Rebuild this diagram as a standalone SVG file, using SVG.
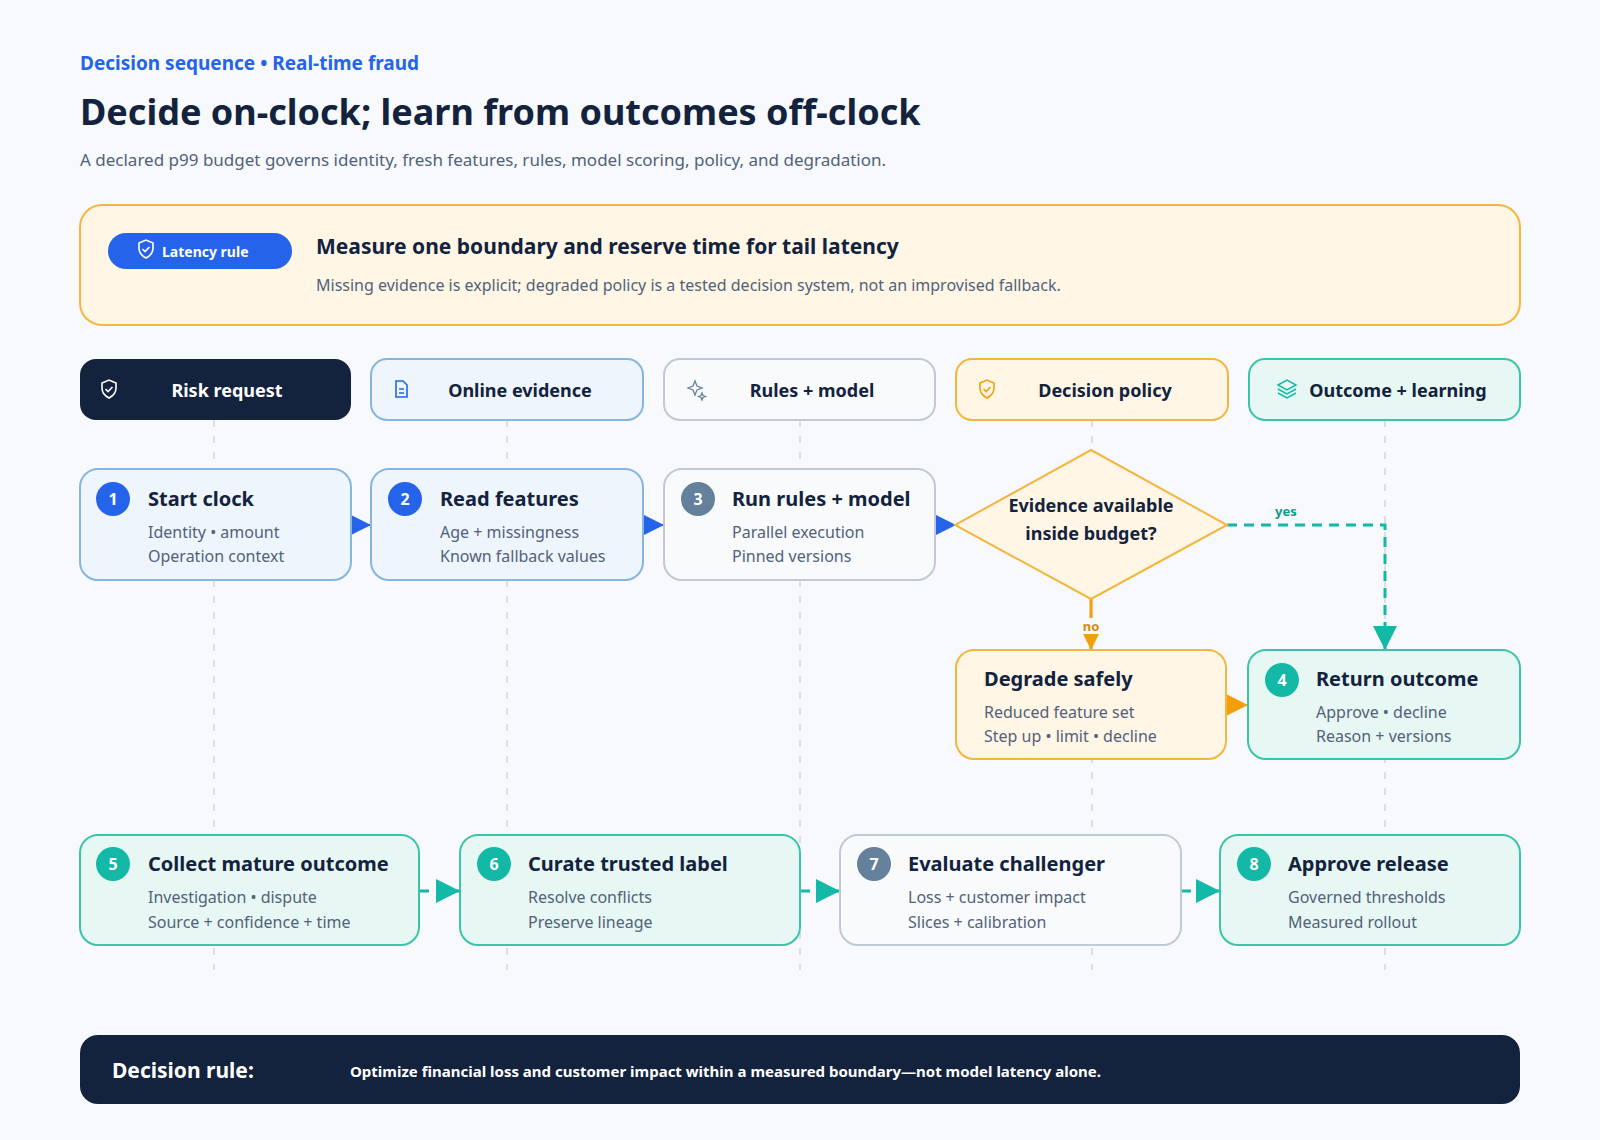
<svg xmlns="http://www.w3.org/2000/svg" width="1600" height="1140" viewBox="0 0 1600 1140">
<defs>
<style>
text{font-family:"Noto Sans","DejaVu Sans",sans-serif}
.t{font-size:20px;font-weight:700;fill:#13223d}
.s{font-size:16px;fill:#52627a}
.lh{font-size:18px;font-weight:700;fill:#13223d}
.bn{font-size:16px;font-weight:700;fill:#fff;text-anchor:middle}
.lane{stroke:#cfd6df;stroke-width:1.5;stroke-dasharray:7 9}
.blue{fill:#eef5fc;stroke:#86b6df;stroke-width:2}
.gray{fill:#f8fafc;stroke:#bfcad6;stroke-width:2}
.org{fill:#fff6e6;stroke:#f5b640;stroke-width:2}
.teal{fill:#e7f7f3;stroke:#3cc4ab;stroke-width:2}
</style>
<marker id="ab" viewBox="0 0 10 10" refX="10" refY="5" markerWidth="22" markerHeight="24" markerUnits="userSpaceOnUse" orient="auto"><path d="M0,0L10,5L0,10z" fill="#2563eb"/></marker>
<marker id="ao" viewBox="0 0 10 10" refX="10" refY="5" markerWidth="22" markerHeight="24" markerUnits="userSpaceOnUse" orient="auto"><path d="M0,0L10,5L0,10z" fill="#f59e0b"/></marker>
<marker id="at" viewBox="0 0 10 10" refX="10" refY="5" markerWidth="24" markerHeight="26" markerUnits="userSpaceOnUse" orient="auto"><path d="M0,0L10,5L0,10z" fill="#14b8a6"/></marker>
</defs>
<rect width="1600" height="1140" fill="#f7f9fc"/>
<text x="80" y="70" font-size="19" font-weight="700" fill="#2563eb">Decision sequence • Real-time fraud</text>
<text x="80" y="125" font-size="36" font-weight="700" fill="#13223d">Decide on-clock; learn from outcomes off-clock</text>
<text x="80" y="166" font-size="17" fill="#52627a">A declared p99 budget governs identity, fresh features, rules, model scoring, policy, and degradation.</text>
<g id="latency">
<rect x="80" y="205" width="1440" height="120" rx="22" fill="#fff6e6" stroke="#f5b640" stroke-width="2"/>
<rect x="108" y="233" width="184" height="36" rx="18" fill="#2563eb"/>
<path d="M139,243l7,-3l7,3v5c0,5,-3,8,-7,10c-4,-2,-7,-5,-7,-10z M142.5,249l2.5,2.5l4.5,-4.5" fill="none" stroke="#fff" stroke-width="1.6"/>
<text x="162" y="257" font-size="14" font-weight="700" fill="#fff">Latency rule</text>
<text x="316" y="254" font-size="21" font-weight="700" fill="#13223d">Measure one boundary and reserve time for tail latency</text>
<text x="316" y="291" class="s">Missing evidence is explicit; degraded policy is a tested decision system, not an improvised fallback.</text>
</g>
<g id="lanes">
<line class="lane" x1="214" y1="420" x2="214" y2="970"/>
<line class="lane" x1="507" y1="420" x2="507" y2="970"/>
<line class="lane" x1="800" y1="420" x2="800" y2="970"/>
<line class="lane" x1="1092" y1="420" x2="1092" y2="970"/>
<line class="lane" x1="1385" y1="420" x2="1385" y2="970"/>
</g>
<g id="lane-risk"><rect x="80" y="359" width="271" height="61" rx="16" fill="#13223d"/>
<path d="M102,383l7,-3l7,3v5c0,5,-3,8,-7,10c-4,-2,-7,-5,-7,-10z M105.5,389l2.5,2.5l4.5,-4.5" fill="none" stroke="#fff" stroke-width="1.6"/>
<text x="227" y="397" class="lh" fill="#fff" style="fill:#fff" text-anchor="middle">Risk request</text></g>
<g id="lane-evidence"><rect x="371" y="359" width="272" height="61" rx="16" class="blue"/>
<path d="M396,381h7l4,4v12h-11z M399,389h5M399,393h5" fill="none" stroke="#2563eb" stroke-width="1.6"/>
<text x="520" y="397" class="lh" text-anchor="middle">Online evidence</text></g>
<g id="lane-rules"><rect x="664" y="359" width="271" height="61" rx="16" class="gray"/>
<path d="M695,381l2,5l5,2l-5,2l-2,5l-2,-5l-5,-2l5,-2z M702,393l1,2.5l2.5,1l-2.5,1l-1,2.5l-1,-2.5l-2.5,-1l2.5,-1z" fill="none" stroke="#64809a" stroke-width="1.3"/>
<text x="812" y="397" class="lh" text-anchor="middle">Rules + model</text></g>
<g id="lane-policy"><rect x="956" y="359" width="272" height="61" rx="16" class="org"/>
<path d="M980,383l7,-3l7,3v5c0,5,-3,8,-7,10c-4,-2,-7,-5,-7,-10z M983.5,389l2.5,2.5l4.5,-4.5" fill="none" stroke="#f59e0b" stroke-width="1.6"/>
<text x="1105" y="397" class="lh" text-anchor="middle">Decision policy</text></g>
<g id="lane-outcome"><rect x="1249" y="359" width="271" height="61" rx="16" class="teal"/>
<path d="M1278,385l9,-5l9,5l-9,5z M1269,389 M1278,389l9,5l9,-5 M1278,393l9,5l9,-5" fill="none" stroke="#14b8a6" stroke-width="1.5"/>
<text x="1398" y="397" class="lh" text-anchor="middle">Outcome + learning</text></g>
<g id="connectors" fill="none">
<line x1="351" y1="525" x2="371" y2="525" stroke="#2563eb" stroke-width="2" marker-end="url(#ab)"/>
<line x1="643" y1="525" x2="664" y2="525" stroke="#2563eb" stroke-width="2" marker-end="url(#ab)"/>
<line x1="935" y1="525" x2="956" y2="525" stroke="#2563eb" stroke-width="2" marker-end="url(#ab)"/>
<path d="M1227,525H1385V650" stroke="#14b8a6" stroke-width="3" stroke-dasharray="10 7" marker-end="url(#at)"/>
<line x1="1091" y1="599" x2="1091" y2="650" stroke="#f59e0b" stroke-width="3" marker-end="url(#ao)"/>
<line x1="1226" y1="705" x2="1248" y2="705" stroke="#f59e0b" stroke-width="2" marker-end="url(#ao)"/>
<line x1="419" y1="891" x2="460" y2="891" stroke="#14b8a6" stroke-width="3" stroke-dasharray="10 7" marker-end="url(#at)"/>
<line x1="800" y1="891" x2="840" y2="891" stroke="#14b8a6" stroke-width="3" stroke-dasharray="10 7" marker-end="url(#at)"/>
<line x1="1181" y1="891" x2="1220" y2="891" stroke="#14b8a6" stroke-width="3" stroke-dasharray="10 7" marker-end="url(#at)"/>
<text x="1275" y="516" font-size="13" font-weight="700" fill="#0f9c8a" stroke="none">yes</text>
<rect x="1078" y="618" width="26" height="16" fill="#f7f9fc" stroke="none"/>
<text x="1091" y="631" font-size="13" font-weight="700" fill="#d9890b" stroke="none" text-anchor="middle">no</text>
</g>
<g id="n1"><rect x="80" y="469" width="271" height="111" rx="18" class="blue"/><circle cx="113" cy="499" r="17" fill="#2563eb"/><text x="113" y="505" class="bn">1</text>
<text x="148" y="506" class="t">Start clock</text><text x="148" y="538" class="s">Identity • amount</text><text x="148" y="562" class="s">Operation context</text></g>
<g id="n2"><rect x="371" y="469" width="272" height="111" rx="18" class="blue"/><circle cx="405" cy="499" r="17" fill="#2563eb"/><text x="405" y="505" class="bn">2</text>
<text x="440" y="506" class="t">Read features</text><text x="440" y="538" class="s">Age + missingness</text><text x="440" y="562" class="s">Known fallback values</text></g>
<g id="n3"><rect x="664" y="469" width="271" height="111" rx="18" class="gray"/><circle cx="698" cy="499" r="17" fill="#64809a"/><text x="698" y="505" class="bn">3</text>
<text x="732" y="506" class="t">Run rules + model</text><text x="732" y="538" class="s">Parallel execution</text><text x="732" y="562" class="s">Pinned versions</text></g>
<g id="decision"><path d="M1091,450L1227,525L1091,599L955,525z" fill="#fff6e6" stroke="#f5b640" stroke-width="2"/>
<text x="1091" y="512" class="lh" text-anchor="middle">Evidence available</text><text x="1091" y="540" class="lh" text-anchor="middle">inside budget?</text></g>
<g id="degrade"><rect x="956" y="650" width="270" height="109" rx="18" class="org"/>
<text x="984" y="686" class="t">Degrade safely</text><text x="984" y="718" class="s">Reduced feature set</text><text x="984" y="742" class="s">Step up • limit • decline</text></g>
<g id="n4"><rect x="1248" y="650" width="272" height="109" rx="18" class="teal"/><circle cx="1282" cy="680" r="17" fill="#14b8a6"/><text x="1282" y="686" class="bn">4</text>
<text x="1316" y="686" class="t">Return outcome</text><text x="1316" y="718" class="s">Approve • decline</text><text x="1316" y="742" class="s">Reason + versions</text></g>
<g id="n5"><rect x="80" y="835" width="339" height="110" rx="18" class="teal"/><circle cx="113" cy="864" r="17" fill="#14b8a6"/><text x="113" y="870" class="bn">5</text>
<text x="148" y="871" class="t">Collect mature outcome</text><text x="148" y="903" class="s">Investigation • dispute</text><text x="148" y="928" class="s">Source + confidence + time</text></g>
<g id="n6"><rect x="460" y="835" width="340" height="110" rx="18" class="teal"/><circle cx="494" cy="864" r="17" fill="#14b8a6"/><text x="494" y="870" class="bn">6</text>
<text x="528" y="871" class="t">Curate trusted label</text><text x="528" y="903" class="s">Resolve conflicts</text><text x="528" y="928" class="s">Preserve lineage</text></g>
<g id="n7"><rect x="840" y="835" width="341" height="110" rx="18" class="gray"/><circle cx="874" cy="864" r="17" fill="#64809a"/><text x="874" y="870" class="bn">7</text>
<text x="908" y="871" class="t">Evaluate challenger</text><text x="908" y="903" class="s">Loss + customer impact</text><text x="908" y="928" class="s">Slices + calibration</text></g>
<g id="n8"><rect x="1220" y="835" width="300" height="110" rx="18" class="teal"/><circle cx="1254" cy="864" r="17" fill="#14b8a6"/><text x="1254" y="870" class="bn">8</text>
<text x="1288" y="871" class="t">Approve release</text><text x="1288" y="903" class="s">Governed thresholds</text><text x="1288" y="928" class="s">Measured rollout</text></g>
<g id="rule"><rect x="80" y="1035" width="1440" height="69" rx="18" fill="#13223d"/>
<text x="112" y="1078" font-size="21" font-weight="700" fill="#fff">Decision rule:</text>
<text x="350" y="1077" font-size="15" font-weight="700" fill="#fff">Optimize financial loss and customer impact within a measured boundary—not model latency alone.</text></g>
</svg>
